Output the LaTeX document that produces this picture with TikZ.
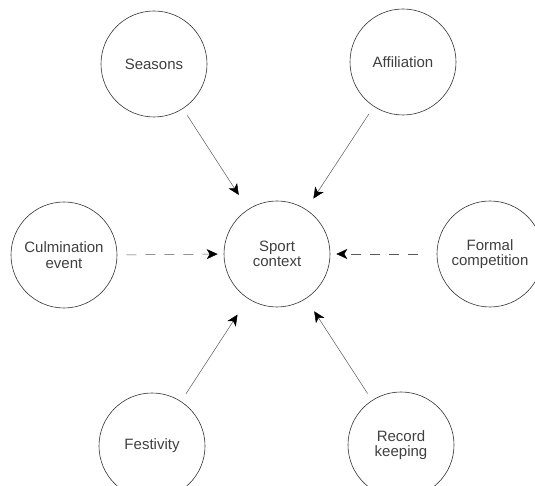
\documentclass[tikz,border=0pt]{standalone}
\usepackage{fontspec}
\setmainfont{Liberation Sans}
\usetikzlibrary{arrows.meta}
\begin{document}
\begin{tikzpicture}[x=1pt,y=1pt,
  bubble/.style={circle,draw=black!80,line width=0.6pt,minimum size=106pt,inner sep=0pt,
    align=center,text=black!75,font=\fontsize{15}{15.5}\selectfont},
  link/.style={draw=black!65,line width=0.5pt,-{Stealth[length=11pt,width=10pt,inset=3pt,black]}},
  dlink/.style={link,dash pattern=on 10pt off 9pt}]
\useasboundingbox (0,0) rectangle (535,486);
\node[bubble] (sport) at (277,232) {Sport\\context};
\node[bubble] (seas) at (154,422) {Seasons};
\node[bubble] (affi) at (403,424) {Affiliation};
\node[bubble] (culm) at (64,231) {Culmination\\event};
\node[bubble] (form) at (490,232) {Formal\\competition};
\node[bubble] (fest) at (152,40) {Festivity};
\node[bubble] (reco) at (401,41) {Record\\keeping};
\draw[link,shorten <=8pt,shorten >=17pt] (seas) -- (sport);
\draw[link,shorten <=9pt,shorten >=13pt] (affi) -- (sport);
\draw[dlink,shorten <=9pt,shorten >=6pt] (culm.east) -- (sport.west);
\draw[dlink,shorten <=19pt,shorten >=6pt] (form.west) -- (sport.east);
\draw[link,shorten <=9pt,shorten >=19pt] (fest) -- (sport);
\draw[link,shorten <=8pt,shorten >=15pt] (reco) -- (sport);
\end{tikzpicture}
\end{document}
